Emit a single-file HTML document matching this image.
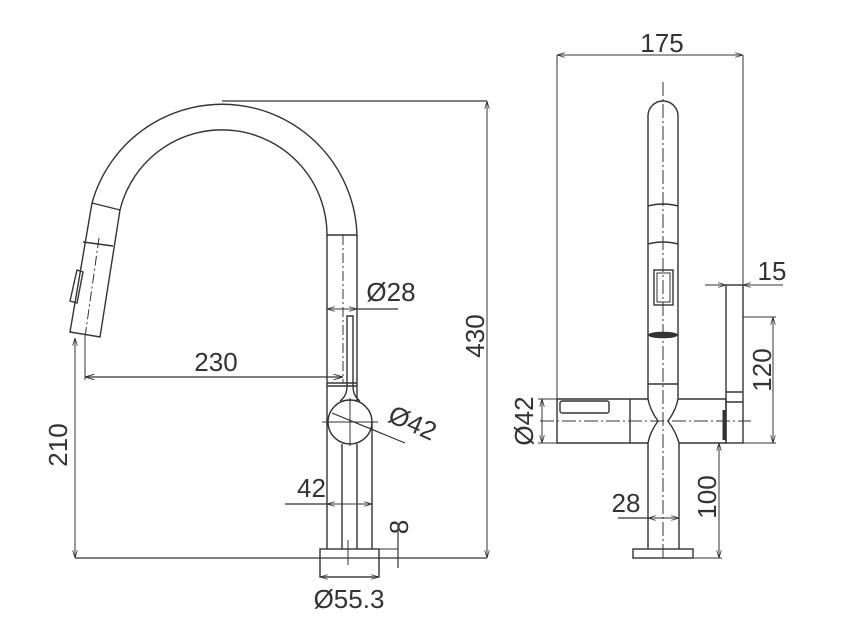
<!DOCTYPE html>
<html><head><meta charset="utf-8"><style>
html,body{margin:0;padding:0;background:#fff}
svg{display:block}
text{font-family:"Liberation Sans",sans-serif;fill:#333;font-size:26px}
</style></head><body>
<svg width="860" height="623" viewBox="0 0 860 623" xmlns="http://www.w3.org/2000/svg">
<defs>
<marker id="a" viewBox="0 0 10 6" refX="10" refY="3" markerWidth="8" markerHeight="5" orient="auto-start-reverse"><path d="M0,0 L10,3 L0,6" fill="none" stroke="#333" stroke-width="1"/></marker>
</defs>
<g fill="none" stroke="#333" stroke-width="1.4">
<path d="M92,203 A135,135 0 0 1 357,236"/>
<path d="M120,210 A105,105 0 0 1 327,236"/>
<path d="M92,203 L70,332 L100,337 L120,210"/>
<line x1="92" y1="203" x2="120" y2="210"/>
<line x1="83" y1="242" x2="113" y2="246"/>
<path d="M77,270 L83,272 L77,303 L70,301 Z"/>
<line x1="99" y1="238" x2="85" y2="337" stroke-width="1" stroke-dasharray="10,3,2,3"/>
<line x1="327" y1="235" x2="357" y2="235"/>
<line x1="327" y1="235" x2="327" y2="549"/>
<line x1="357" y1="235" x2="357" y2="401"/>
<line x1="327" y1="383" x2="357" y2="383"/>
<line x1="327" y1="386" x2="357" y2="386"/>
<line x1="343" y1="235" x2="343" y2="383" stroke-width="1" stroke-dasharray="10,3,2,3"/>
<path d="M347,386 L347,316 L353,316 L353,386"/>
<path d="M347,386 Q347,396 340,401"/>
<path d="M353,386 Q353,396 360,401"/>
<circle cx="350" cy="422" r="22"/>
<line x1="342" y1="444" x2="342" y2="549"/>
<line x1="357" y1="444" x2="357" y2="549"/>
<line x1="372" y1="422" x2="372" y2="549"/>
<line x1="350" y1="398" x2="350" y2="446" stroke-width="1"/>
<line x1="322" y1="422" x2="378" y2="422" stroke-width="1"/>
<rect x="320" y="549" width="59" height="28"/>
<line x1="348" y1="540" x2="348" y2="565" stroke-width="1"/>
<line x1="222" y1="101" x2="487" y2="101" stroke-width="1.2"/>
<line x1="75" y1="558" x2="487" y2="558" stroke-width="1.2"/>
<line x1="487" y1="101" x2="487" y2="558" stroke-width="1" marker-start="url(#a)" marker-end="url(#a)"/>
<line x1="75" y1="338" x2="75" y2="558" stroke-width="1" marker-start="url(#a)" marker-end="url(#a)"/>
<line x1="85" y1="337" x2="85" y2="380" stroke-width="1"/>
<line x1="85" y1="377" x2="343" y2="377" stroke-width="1.2" marker-start="url(#a)" marker-end="url(#a)"/>
<line x1="327" y1="309" x2="357" y2="309" stroke-width="1" marker-start="url(#a)" marker-end="url(#a)"/>
<line x1="357" y1="309" x2="398" y2="309" stroke-width="1.2"/>
<line x1="332" y1="413" x2="405" y2="443" stroke-width="1.2"/>
<line x1="327" y1="504" x2="372" y2="504" stroke-width="1" marker-start="url(#a)" marker-end="url(#a)"/>
<line x1="285" y1="504" x2="327" y2="504" stroke-width="1.2"/>
<line x1="379" y1="549" x2="398" y2="549" stroke-width="1"/>
<line x1="398" y1="523" x2="398" y2="568" stroke-width="1.2"/>
<line x1="320" y1="577" x2="379" y2="577" stroke-width="1" marker-start="url(#a)" marker-end="url(#a)"/>
<path d="M648,399 L648,116 A15,15 0 0 1 678,116 L678,399"/>
<line x1="663" y1="82" x2="663" y2="560" stroke-width="1" stroke-dasharray="14,3,2,3"/>
<path d="M648,206 Q663,202 678,206"/>
<path d="M648,244 Q663,240 678,244"/>
<rect x="654" y="270" width="19" height="35"/>
<rect x="657" y="273" width="13" height="29" stroke-width="1"/>
<ellipse cx="663" cy="335" rx="14" ry="2.5" fill="#333"/>
<line x1="648" y1="384" x2="678" y2="384"/>
<path d="M557,399 L648,399 Q650,410 658,421 Q650,432 648,443 L557,443 Z"/>
<path d="M678,399 L726,399 L726,443 L679,443 Q676,432 668,421 Q676,410 678,399"/>
<rect x="560" y="401" width="49" height="12" rx="2"/>
<line x1="630" y1="399" x2="630" y2="443"/>
<line x1="648" y1="443" x2="648" y2="549"/>
<line x1="679" y1="443" x2="679" y2="549"/>
<rect x="633" y="549" width="60" height="9"/>
<rect x="726" y="285" width="17" height="158"/>
<line x1="726" y1="392" x2="743" y2="392"/>
<line x1="726" y1="402" x2="743" y2="402"/>
<line x1="724" y1="410" x2="724" y2="440" stroke-width="3"/>
<line x1="540" y1="421" x2="751" y2="421" stroke-width="1" stroke-dasharray="14,3,2,3"/>
<line x1="557" y1="55" x2="557" y2="399" stroke-width="1"/>
<line x1="743" y1="55" x2="743" y2="285" stroke-width="1"/>
<line x1="557" y1="55" x2="743" y2="55" stroke-width="1" marker-start="url(#a)" marker-end="url(#a)"/>
<line x1="705" y1="285" x2="726" y2="285" stroke-width="1" marker-end="url(#a)"/>
<line x1="783" y1="285" x2="743" y2="285" stroke-width="1" marker-end="url(#a)"/>
<line x1="743" y1="317" x2="776" y2="317" stroke-width="1"/>
<line x1="743" y1="443" x2="776" y2="443" stroke-width="1"/>
<line x1="773" y1="317" x2="773" y2="443" stroke-width="1" marker-start="url(#a)" marker-end="url(#a)"/>
<line x1="538" y1="399" x2="557" y2="399" stroke-width="1"/>
<line x1="538" y1="443" x2="557" y2="443" stroke-width="1"/>
<line x1="542" y1="399" x2="542" y2="443" stroke-width="1" marker-start="url(#a)" marker-end="url(#a)"/>
<line x1="693" y1="558" x2="722" y2="558" stroke-width="1"/>
<line x1="719" y1="443" x2="719" y2="558" stroke-width="1" marker-start="url(#a)" marker-end="url(#a)"/>
<line x1="618" y1="518" x2="648" y2="518" stroke-width="1.2"/>
<line x1="648" y1="518" x2="679" y2="518" stroke-width="1" marker-start="url(#a)" marker-end="url(#a)"/>
</g>
<text x="216" y="371" text-anchor="middle">230</text>
<text x="391" y="301" text-anchor="middle">Ø28</text>
<text x="297" y="497" text-anchor="start">42</text>
<text x="349" y="608" text-anchor="middle">Ø55.3</text>
<text transform="translate(484,336) rotate(-90)" text-anchor="middle">430</text>
<text transform="translate(67,445) rotate(-90)" text-anchor="middle">210</text>
<text transform="translate(408,527) rotate(-90)" text-anchor="middle">8</text>
<text transform="translate(409,431) rotate(24)" text-anchor="middle">Ø42</text>
<text x="662" y="52" text-anchor="middle">175</text>
<text x="772" y="280" text-anchor="middle">15</text>
<text transform="translate(771,370) rotate(-90)" text-anchor="middle">120</text>
<text transform="translate(716,497) rotate(-90)" text-anchor="middle">100</text>
<text x="626" y="512" text-anchor="middle">28</text>
<text transform="translate(533,421) rotate(-90)" text-anchor="middle">Ø42</text>
</svg>
</body></html>
